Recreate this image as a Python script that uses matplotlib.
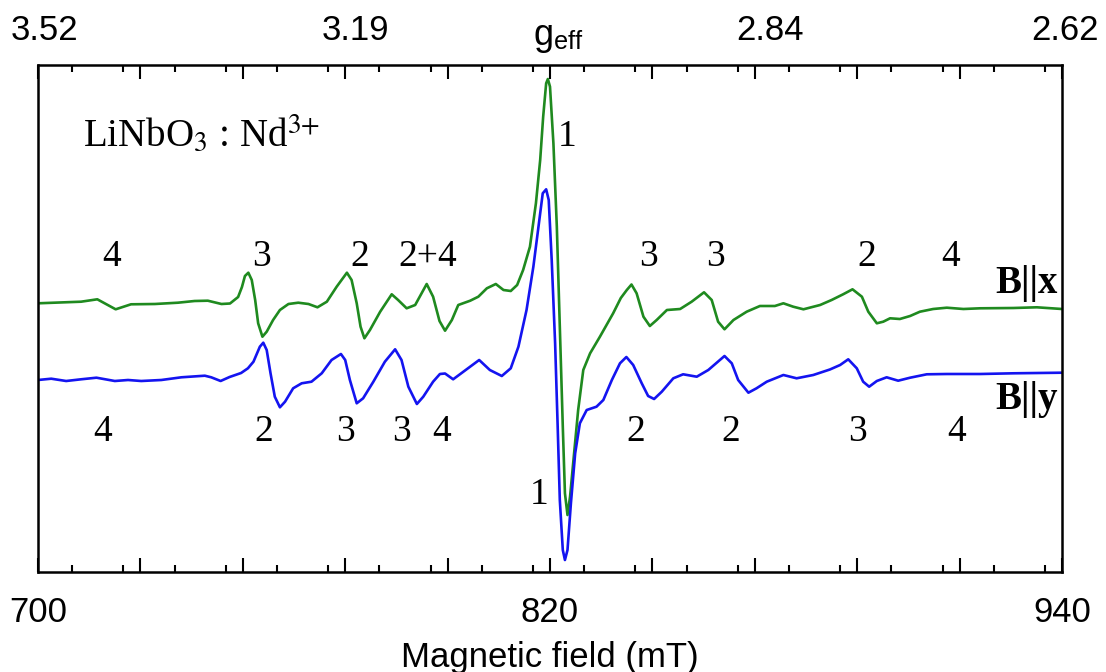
import numpy as np
import matplotlib
matplotlib.use("Agg")
import matplotlib.pyplot as plt
from matplotlib.ticker import FixedLocator, MultipleLocator, FuncFormatter

plt.rcParams['mathtext.fontset'] = 'stix'

# EPR spectra: field (mT) and signal (a.u.)
field_x = [700.0, 710.1, 713.9, 718.2, 721.8, 727.4, 732.8, 736.7, 739.8, 743.0,
           745.0, 746.9, 747.8, 748.5, 749.3, 750.1, 750.9, 751.6, 752.6, 753.6,
           755.1, 756.7, 758.7, 761.0, 763.4, 765.5, 767.7, 770.0, 772.4, 773.5,
           774.7, 775.6, 776.5, 777.8, 780.2, 782.9, 784.4, 786.4, 788.4, 791.1,
           792.6, 794.1, 795.4, 797.0, 798.5, 801.3, 803.2, 805.2, 807.3, 809.1,
           810.8, 812.3, 813.7, 815.3, 816.7, 817.7, 818.4, 819.1, 819.5, 820.0,
           820.8, 821.6, 822.3, 823.0, 823.5, 824.1, 824.7, 825.5, 826.6, 827.8,
           829.4, 831.7, 834.8, 836.6, 838.0, 839.1, 840.3, 841.9, 843.4, 845.0,
           847.4, 850.5, 853.2, 856.1, 857.9, 859.4, 860.9, 863.0, 866.1, 869.2,
           872.7, 874.7, 877.0, 879.4, 883.3, 886.0, 888.7, 890.9, 893.1, 894.6,
           896.6, 898.1, 899.7, 902.0, 904.4, 906.7, 909.8, 913.0, 916.9, 920.8,
           928.6, 934.1, 940.0]
signal_x = [-1.3, 0.3, 2.7, -7.3, -2.3, -2.0, -0.7, 1.0, 1.3, -2.0,
            -1.5, 5.0, 15.0, 26.0, 29.3, 22.0, 2.0, -21.3, -34.7, -29.7,
            -18.0, -8.0, -2.0, -0.7, -2.0, -5.3, 0.3, 15.3, 29.3, 22.0,
            -1.3, -24.7, -36.3, -28.0, -9.7, 7.7, 2.0, -6.3, -3.0, 18.0,
            5.3, -19.0, -28.7, -18.0, -3.0, 1.3, 5.3, 13.7, 18.0, 12.0,
            11.0, 17.0, 32.0, 55.3, 98.7, 142.0, 185.3, 218.7, 223.0, 215.3,
            158.7, 75.3, -24.7, -124.7, -191.3, -213.0, -194.7, -158.0, -108.0, -68.0,
            -51.3, -34.7, -11.3, 4.0, 12.0, 17.5, 8.7, -14.7, -24.0, -18.0,
            -8.0, -7.0, 0.3, 9.7, 2.0, -19.7, -27.3, -18.0, -9.7, -4.0,
            -4.0, -1.3, -4.7, -7.3, -3.0, 2.0, 7.7, 12.7, 5.3, -9.7,
            -21.3, -19.7, -16.3, -17.0, -14.0, -9.7, -7.0, -5.7, -7.0, -6.3,
            -6.0, -5.3, -7.0]

field_y = [700.0, 703.1, 706.6, 710.1, 713.7, 718.0, 721.1, 724.2, 728.9, 733.6,
           739.1, 740.6, 742.8, 744.9, 747.6, 749.2, 750.5, 752.0, 752.8, 753.6,
           754.5, 755.5, 756.7, 757.9, 759.8, 761.8, 764.1, 766.5, 768.8, 771.0,
           772.0, 773.1, 774.7, 776.2, 778.6, 781.3, 783.7, 785.2, 786.8, 788.8,
           790.3, 792.6, 794.2, 795.4, 797.3, 799.7, 803.4, 805.9, 808.7, 810.8,
           812.6, 814.5, 816.1, 817.3, 818.3, 819.1, 819.7, 820.4, 821.2, 821.8,
           822.3, 823.0, 823.5, 824.1, 824.9, 825.9, 827.0, 828.6, 830.9, 832.5,
           834.5, 836.4, 837.9, 839.5, 841.5, 843.0, 844.4, 846.2, 848.9, 851.2,
           854.4, 857.1, 860.9, 862.6, 864.1, 866.5, 868.4, 870.8, 874.7, 877.8,
           881.7, 885.6, 888.0, 889.9, 891.9, 893.4, 894.8, 896.6, 898.9, 901.6,
           904.4, 908.3, 913.0, 920.8, 928.6, 940.0]
signal_y = [-2.0, -0.7, -3.0, -1.3, 0.3, -3.0, -2.0, -3.0, -2.0, 0.7,
            2.3, 0.7, -3.0, 1.0, 5.0, 9.7, 16.3, 31.3, 35.3, 28.0,
            4.7, -18.7, -29.3, -23.7, -10.3, -5.3, -3.7, 4.7, 18.0, 24.0,
            18.0, -2.0, -25.3, -20.3, -3.7, 16.3, 28.7, 18.0, -8.7, -26.0,
            -18.7, -3.7, 4.0, 4.5, -1.3, 6.3, 18.0, 8.0, 2.0, 9.7,
            31.3, 68.0, 111.3, 151.3, 184.7, 188.7, 178.0, 118.0, 34.7, -48.7,
            -122.0, -172.0, -182.0, -172.0, -125.3, -75.3, -45.3, -32.0, -28.7, -22.0,
            -2.0, 14.7, 21.0, 13.0, -5.3, -18.0, -21.0, -13.7, -0.3, 3.7,
            1.3, 8.0, 22.0, 14.7, -2.0, -14.7, -10.3, -3.7, 3.0, -0.3,
            3.0, 8.5, 13.0, 18.7, 9.7, -3.7, -8.7, -3.0, 0.7, -2.7,
            0.3, 3.7, 4.0, 4.0, 4.7, 5.3]

offset_x = 270
offset_y = 194

# line assignments
labels_x = ['4', '3', '2', '2+4', '3', '3', '2', '4']
labels_x_pos = [717.3, 752.5, 775.5, 791.4, 843.0, 858.9, 894.3, 913.8]
labels_y = ['4', '2', '3', '3', '4', '2', '2', '3', '4']
labels_y_pos = [715.2, 753.0, 772.0, 785.3, 794.7, 840.2, 862.4, 892.0, 915.4]

field_labels = [700, 820, 940]
g_labels = ['3.52', '3.19', '2.84', '2.62']
g_pos = [701.6, 774.5, 871.5, 940.7]

fig = plt.figure(figsize=(11.06, 6.72), dpi=100)
ax = fig.add_axes([38/1106, 100/672, 1024/1106, 507/672])

ax.plot(field_x, np.array(signal_x) + offset_x, color='#1f8a1f', lw=1.9,
        solid_joinstyle='round')
ax.plot(field_y, np.array(signal_y) + offset_y, color='#1414f0', lw=1.9,
        solid_joinstyle='round')

ax.set_xlim(700, 940)
ax.set_ylim(0, 507)
ax.set_yticks([])
ax.xaxis.set_major_locator(FixedLocator(np.arange(700, 941, 24)))
ax.xaxis.set_minor_locator(MultipleLocator(12))
ax.xaxis.set_major_formatter(FuncFormatter(
    lambda v, p: f'{v:.0f}' if round(v) in field_labels else ''))
ax.tick_params(axis='x', which='major', direction='in', length=10, width=1.5,
               labelsize=25, pad=17, top=True, labelfontfamily='Liberation Sans')
ax.tick_params(axis='x', which='minor', direction='in', length=5, width=1.5, top=True)
for sp in ax.spines.values():
    sp.set_linewidth(1.8)

ax.set_xlabel('Magnetic field (mT)', fontsize=25, family='Liberation Sans', labelpad=9)

for t, p in zip(g_labels, g_pos):
    ax.text(p, 1.068, t, transform=ax.get_xaxis_transform(), ha='center', va='center',
            fontsize=25, family='Liberation Sans')
ax.text(822, 1.055, r'g$_{\mathregular{eff}}$', transform=ax.get_xaxis_transform(),
        ha='center', va='center', fontsize=26, family='Liberation Sans')

serif = 'Liberation Serif'
for t, p in zip(labels_x, labels_x_pos):
    ax.text(p, 315, t, ha='center', va='center', fontsize=27, family=serif)
for t, p in zip(labels_y, labels_y_pos):
    ax.text(p, 140, t, ha='center', va='center', fontsize=27, family=serif)
ax.text(824.0, 435, '1', ha='center', va='center', fontsize=27, family=serif)
ax.text(817.4, 77, '1', ha='center', va='center', fontsize=27, family=serif)

ax.text(710.5, 437, r'LiNbO$_3$ : Nd$^{3{+}}$', ha='left', va='center', fontsize=28, family=serif)
ax.text(939, 289, 'B||x', ha='right', va='center', fontsize=28, family=serif, fontweight='bold')
ax.text(939, 172, 'B||y', ha='right', va='center', fontsize=28, family=serif, fontweight='bold')

fig.savefig('out.png', dpi=100)
